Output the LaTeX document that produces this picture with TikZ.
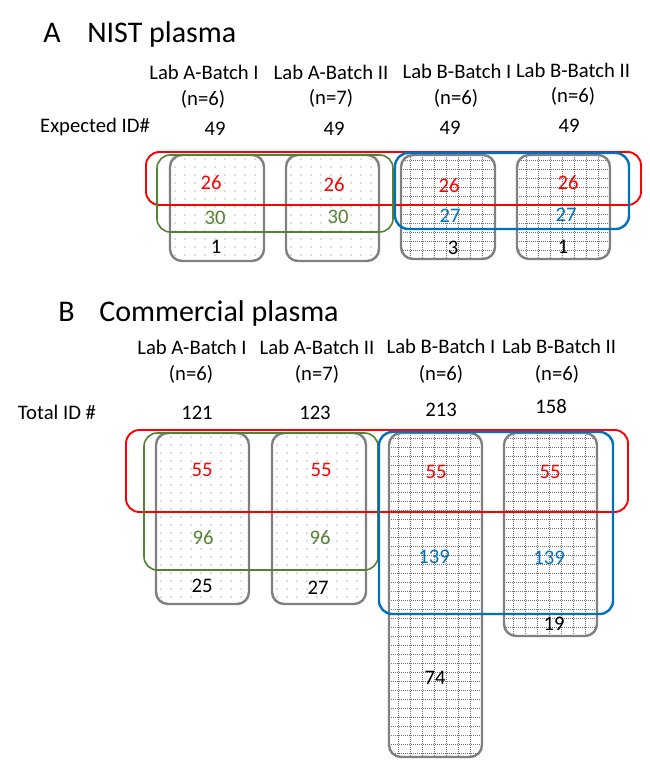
\documentclass[tikz,border=0pt]{standalone}
\usepackage{fontspec}
\setmainfont{Carlito}
\usetikzlibrary{fit}
\definecolor{boxgray}{HTML}{808080}
\definecolor{setred}{HTML}{FF0000}
\definecolor{setgreen}{HTML}{548235}
\definecolor{setblue}{HTML}{0070C0}
\tikzset{
    title/.style={anchor=base west, inner sep=0pt, font=\fontsize{22.5}{27}\selectfont},
    head/.style={anchor=base, inner sep=0pt, font=\fontsize{15.5}{19}\selectfont},
    num/.style={inner sep=0pt, font=\fontsize{15.5}{19}\selectfont},
    gridline/.style={draw=black!55, line width=0.5pt, dash pattern=on 0.6pt off 0.9pt},
    dotbox/.style={draw=boxgray, line width=1.8pt, rounded corners=9pt, inner sep=0pt,
        path picture={\foreach \i in {0,...,9} \foreach \j in {0,...,40}
            \fill[black!60] ([shift={(5+\i*10,4+\j*8)}]path picture bounding box.north west) circle (0.5pt);}},
    gridbox/.style={draw=boxgray, line width=1.8pt, rounded corners=9pt, inner sep=0pt,
        path picture={
            \foreach \i in {1,...,8}
                \draw[gridline] ([shift={(\i*12-3,0)}]path picture bounding box.north west) -- ([shift={(\i*12-3,0)}]path picture bounding box.south west);
            \foreach \j in {1,...,40}
                \draw[gridline] ([shift={(0,\j*9-4)}]path picture bounding box.north west) -- ([shift={(0,\j*9-4)}]path picture bounding box.north east);}},
    ring/.style={rounded corners=10pt, inner sep=0pt}
}

\begin{document}
\begin{tikzpicture}[x=0.75pt, y=-0.75pt]
    \useasboundingbox (0,0) rectangle (649,777);

    % A: NIST plasma
    \node [title] (atag) at (43,42.5) {A};
    \node [title] (aname) at (87,42.5) {NIST plasma};

    \node [head] (ha1) at (204,80) {Lab A-Batch I};
    \node [head] (ha2) at (331,79.5) {Lab A-Batch II};
    \node [head] (ha3) at (457,78.5) {Lab B-Batch I};
    \node [head] (ha4) at (573,77.5) {Lab B-Batch II};
    \node [head] (na1) at (203,105.5) {(n=6)};
    \node [head] (na2) at (331,105) {(n=7)};
    \node [head] (na3) at (456,104.5) {(n=6)};
    \node [head] (na4) at (573,103) {(n=6)};

    \node [head] (expected) at (95,132.5) {Expected ID\#};
    \node [num] (ea1) at (215,129) {49};
    \node [num] (ea2) at (334,128.5) {49};
    \node [num] (ea3) at (450,127.5) {49};
    \node [num] (ea4) at (569,126) {49};

    % boxes
    \node [dotbox, fit={(170,155) (264,261)}] (ba1) {};
    \node [dotbox, fit={(286,155) (379,261)}] (ba2) {};
    \node [gridbox, fit={(401,155) (495,259)}] (ba3) {};
    \node [gridbox, fit={(517,155) (610,259)}] (ba4) {};

    % overlaps
    \node [ring, draw=setred, line width=1.4pt, fit={(146,152) (641,205)}] (ared) {};
    \node [ring, draw=setgreen, line width=1.2pt, fit={(157,155) (393,232)}] (agreen) {};
    \node [ring, draw=setblue, line width=1.8pt, fit={(395,153) (629,229)}] (ablue) {};

    \node [num, setred] (ra1) at (211,183) {26};
    \node [num, setred] (ra2) at (334,185) {26};
    \node [num, setred] (ra3) at (449,186) {26};
    \node [num, setred] (ra4) at (568,183) {26};
    \node [num, setgreen] (ga1) at (215,218) {30};
    \node [num, setgreen] (ga2) at (338,217) {30};
    \node [num, setblue] (la3) at (450,216) {27};
    \node [num, setblue] (la4) at (566,215) {27};
    \node [num] (ka1) at (216,247) {1};
    \node [num] (ka3) at (453,248) {3};
    \node [num] (ka4) at (563,247) {1};

    % B: Commercial plasma
    \node [title] (btag) at (58,321.5) {B};
    \node [title] (bname) at (99,321.5) {Commercial plasma};

    \node [head] (hb1) at (192,354) {Lab A-Batch I};
    \node [head] (hb2) at (317,354) {Lab A-Batch II};
    \node [head] (hb3) at (441,353) {Lab B-Batch I};
    \node [head] (hb4) at (559,353) {Lab B-Batch II};
    \node [head] (nb1) at (191,380.5) {(n=6)};
    \node [head] (nb2) at (317,380.5) {(n=7)};
    \node [head] (nb3) at (441,380) {(n=6)};
    \node [head] (nb4) at (557,380) {(n=6)};

    \node [head] (total) at (57,419) {Total ID \#};
    \node [num] (tb1) at (197,412.5) {121};
    \node [num] (tb2) at (315,412.5) {123};
    \node [num] (tb3) at (441,410) {213};
    \node [num] (tb4) at (551,407) {158};

    % boxes
    \node [dotbox, fit={(156,433) (249,604)}] (bb1) {};
    \node [dotbox, fit={(272,433) (366,604)}] (bb2) {};
    \node [gridbox, fit={(389,433) (482,757)}] (bb3) {};
    \node [gridbox, fit={(504,433) (597,636)}] (bb4) {};

    % overlaps
    \node [ring, draw=setred, line width=1.4pt, fit={(126,430) (628,512)}] (bred) {};
    \node [ring, draw=setgreen, line width=1.2pt, fit={(144,433) (378,570)}] (bgreen) {};
    \node [ring, draw=setblue, line width=1.8pt, fit={(379,432) (613,614)}] (bblue) {};

    \node [num, setred] (rb1) at (202,470) {55};
    \node [num, setred] (rb2) at (321,470) {55};
    \node [num, setred] (rb3) at (436,471.5) {55};
    \node [num, setred] (rb4) at (550,471.5) {55};
    \node [num, setgreen] (gb1) at (203,538) {96};
    \node [num, setgreen] (gb2) at (320,538) {96};
    \node [num, setblue] (lb3) at (434,556.5) {139};
    \node [num, setblue] (lb4) at (549,558) {139};
    \node [num] (kb1) at (202,585.5) {25};
    \node [num] (kb2) at (318,587.5) {27};
    \node [num] (kb3) at (435,677.5) {74};
    \node [num] (kb4) at (554,624) {19};
\end{tikzpicture}
\end{document}
